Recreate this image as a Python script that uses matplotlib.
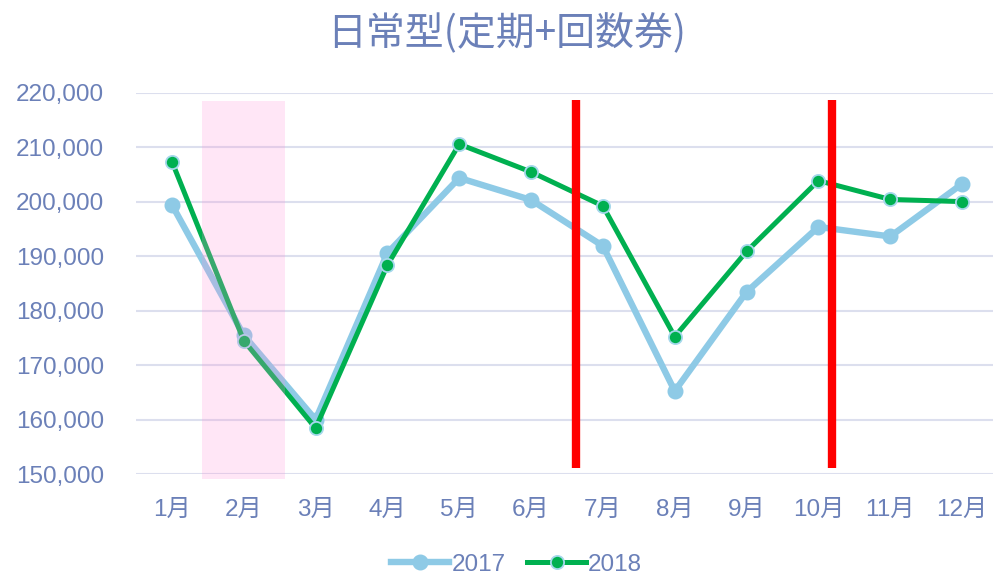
import numpy as np
import matplotlib
matplotlib.use("Agg")
import matplotlib.pyplot as plt

# monthly values
months = ["1月", "2月", "3月", "4月", "5月", "6月", "7月", "8月", "9月", "10月", "11月", "12月"]
y2017 = [199450, 175500, 160000, 190600, 204400, 200350, 191900, 165250, 183450, 195400, 193650, 203300]
y2018 = [207400, 174500, 158450, 188400, 210600, 205500, 199250, 175250, 190900, 203900, 200450, 200050]
yticks = [150000, 160000, 170000, 180000, 190000, 200000, 210000, 220000]

# highlighted period and the two event markers (category positions)
band_x = (0.42, 1.58)
event_x = [5.63, 9.19]
event_y = (151100, 218700)

txt = "#6B80B8"
fonts = ["Liberation Sans", "Noto Sans CJK JP", "DejaVu Sans"]
plt.rcParams["font.family"] = fonts

fig = plt.figure(figsize=(9.93, 5.74), dpi=100)
# plot area runs a bit past the right edge, like the source
ax = fig.add_axes([0.137, 0.174, 0.868, 0.664])

x = np.arange(len(months))
ax.plot(x, y2017, color="#8ECAE6", lw=4.6, marker="o", ms=10.5,
        mfc="#8ECAE6", mec="#8ECAE6", zorder=3, label="2017")
ax.plot(x, y2018, color="#00B050", lw=3.6, marker="o", ms=9.5,
        mfc="#00B050", mec="#A6D8EC", mew=1.3, zorder=4, label="2018")

ax.axvspan(band_x[0], band_x[1], ymin=-0.012, ymax=0.98, color="#FF8FD6",
           alpha=0.22, lw=0, zorder=5, clip_on=False)
for ex in event_x:
    ax.plot([ex, ex], event_y, color="#FF0000", lw=6, solid_capstyle="butt", zorder=6)

ax.set_xlim(-0.5, len(months) - 0.5)
ax.set_ylim(150000, 220000)
ax.set_yticks(yticks)
ax.set_yticklabels(["{:,}".format(v) for v in yticks])
ax.set_xticks(x)
ax.set_xticklabels(months)
ax.yaxis.grid(True, color="#DCDFEE", lw=1.5, zorder=0)
ax.set_axisbelow(True)
for s in ax.spines.values():
    s.set_visible(False)
ax.tick_params(axis="both", length=0, colors=txt, labelsize=17.5)
ax.tick_params(axis="y", pad=23)
ax.tick_params(axis="x", pad=18)

fig.text(0.51, 0.943, "日常型(定期+回数券)", ha="center", va="center",
         fontsize=28, color=txt, family=["Noto Sans CJK JP", "DejaVu Sans"])

leg = fig.legend(loc="center", bbox_to_anchor=(0.52, 0.016), ncol=2,
                 frameon=False, fontsize=17.5, handlelength=2.4,
                 handletextpad=0.1, columnspacing=0.9)
for t in leg.get_texts():
    t.set_color(txt)

fig.savefig("out.png", dpi=100)
